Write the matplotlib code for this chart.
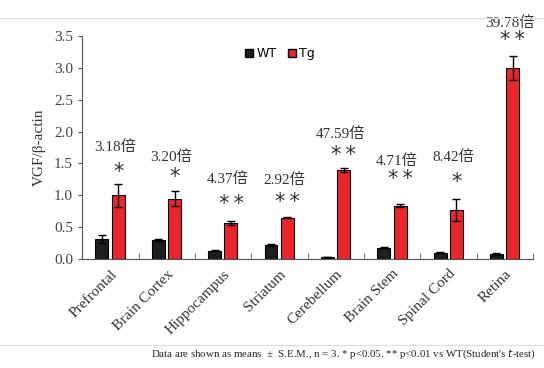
import numpy as np
from matplotlib import pyplot as plt
from matplotlib.lines import Line2D

regions = ["Prefrontal", "Brain Cortex", "Hippocampus", "Striatum",
           "Cerebellum", "Brain Stem", "Spinal Cord", "Retina"]
wt = [0.32, 0.30, 0.13, 0.22, 0.03, 0.18, 0.10, 0.08]
wt_err = [0.06, 0.01, 0.01, 0.01, 0.00, 0.01, 0.01, 0.01]
tg = [1.00, 0.95, 0.57, 0.65, 1.40, 0.84, 0.77, 3.00]
tg_err = [0.18, 0.12, 0.03, 0.01, 0.03, 0.03, 0.17, 0.19]
fold = ["3.18倍", "3.20倍", "4.37倍", "2.92倍", "47.59倍", "4.71倍", "8.42倍", "39.78倍"]
stars = ["*", "*", "**", "**", "**", "**", "*", "**"]
fold_y = [1.76, 1.60, 1.26, 1.24, 1.96, 1.54, 1.60, 3.70]
star_y = [1.37, 1.29, 0.86, 0.90, 1.63, 1.25, 1.21, 3.44]

serif = ['Liberation Serif', 'Noto Sans CJK SC']
red = '#e8262b'

fig = plt.figure(figsize=(5.44, 3.68), dpi=100)
ax = fig.add_axes([0.151, 0.296, 0.829, 0.606])

x = np.arange(len(regions))
w = 0.23
ekw = dict(ecolor='black', capsize=3, elinewidth=1, capthick=1)
ax.bar(x - 0.15, wt, w, color='#1e1e1e', edgecolor='black', linewidth=0.8,
       yerr=wt_err, error_kw=ekw, label='WT')
ax.bar(x + 0.14, tg, w, color=red, edgecolor='black', linewidth=0.8,
       yerr=tg_err, error_kw=ekw, label='Tg')

for i in range(len(regions)):
    ax.text(x[i] + 0.08, fold_y[i], fold[i], ha='center', va='center',
            fontsize=11, family=serif, color='#333333')
    ax.text(x[i] + 0.14, star_y[i], "\u2009".join(stars[i]), ha='center', va='center',
            fontsize=15, family='DejaVu Sans', color='#333333')

ax.set_xlim(-0.5, len(regions) - 0.5)
ax.set_ylim(0, 3.5)
ticks = np.arange(0, 3.51, 0.5)
ax.set_yticks(ticks)
ax.set_yticklabels([f"{v:.1f}" for v in ticks], family=serif, fontsize=11, color='#444444')
ax.set_xticks(x)
ax.set_xticklabels(regions, rotation=45, ha='right', rotation_mode='anchor',
                   family=serif, fontsize=11, color='#333333')
ax.tick_params(axis='x', length=0, pad=6)
ax.set_xticks(np.arange(0.5, len(regions), 1), minor=True)
ax.tick_params(axis='x', which='minor', direction='in', length=4, color='#555555')
ax.tick_params(axis='y', direction='out', length=3, color='#555555')
ax.set_ylabel("VGF/β-actin", family=serif, fontsize=11, color='#333333', labelpad=6)

for s in ['top', 'right']:
    ax.spines[s].set_visible(False)
for s in ['left', 'bottom']:
    ax.spines[s].set_color('#555555')

handles = [Line2D([], [], marker='s', linestyle='none', markersize=6,
                  markerfacecolor='#1e1e1e', markeredgecolor='black'),
           Line2D([], [], marker='s', linestyle='none', markersize=6,
                  markerfacecolor=red, markeredgecolor='black')]
ax.legend(handles, ['WT', 'Tg'], loc='upper center', bbox_to_anchor=(0.435, 1.0), ncol=2,
          frameon=False, handletextpad=0.0, columnspacing=0.6, handlelength=1.2,
          prop=dict(family='DejaVu Sans', size=9))

fig.add_artist(Line2D([0, 1], [1 - 18 / 368, 1 - 18 / 368], color='#dddddd', linewidth=0.8))
fig.add_artist(Line2D([0, 1], [1 - 345 / 368, 1 - 345 / 368], color='#dddddd', linewidth=0.8))
fig.text(0.985, 1 - 354 / 368,
         "Data are shown as means  ±  S.E.M., n = 3. * p<0.05. ** p<0.01 vs WT(Student's $\\it{t}$-test)",
         ha='right', va='center', fontsize=7.8, family=serif, color='#222222')

fig.savefig("out.png", dpi=100)
